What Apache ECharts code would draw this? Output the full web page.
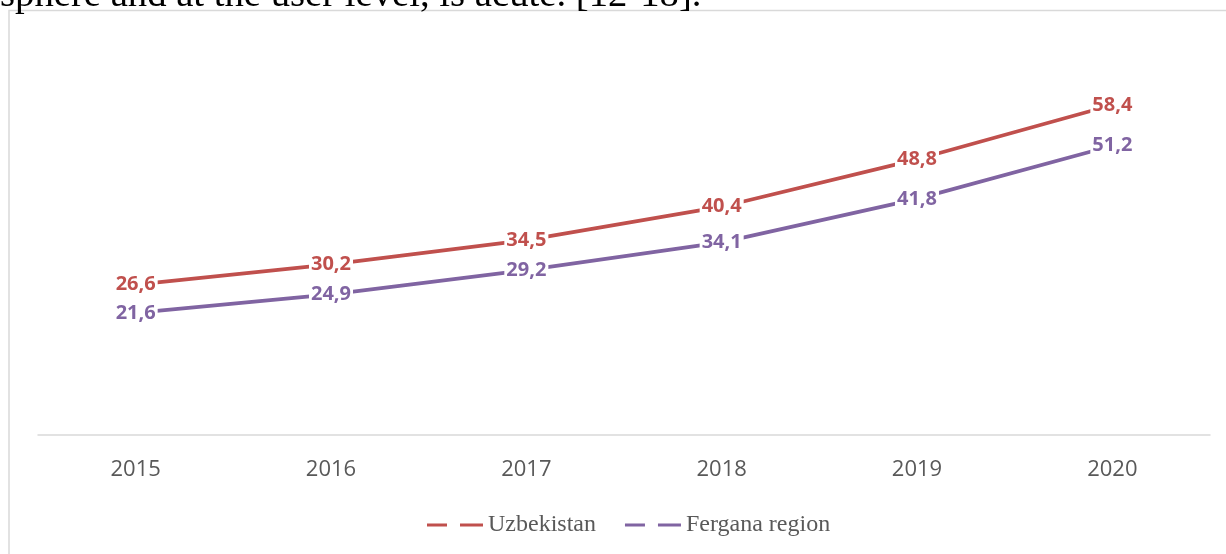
<!DOCTYPE html>
<html>
<head>
<meta charset="utf-8">
<script src="https://cdn.jsdelivr.net/npm/echarts@6/dist/echarts.min.js"></script>
<style>
html,body{margin:0;padding:0;background:#fff;}
#chart{width:1226px;height:554px;}
</style>
</head>
<body>
<div id="chart"></div>
<script>
const categories = ['2015', '2016', '2017', '2018', '2019', '2020'];
const uzbekistan = [26.6, 30.2, 34.5, 40.4, 48.8, 58.4];
const fergana = [21.6, 24.9, 29.2, 34.1, 41.8, 51.2];
const seriesNames = ['Uzbekistan', 'Fergana region'];
const headerText = 'sphere and at the user level, is acute. [12-18].';

const RED = '#C0504D';
const PURPLE = '#8064A2';
const fmt = p => String(p.value).replace('.', ',');

function labelCfg(color) {
  return {
    show: true,
    position: 'inside',
    formatter: fmt,
    color: color,
    fontFamily: '"Open Sans", sans-serif',
    fontWeight: 'bold',
    fontSize: 20,
    backgroundColor: '#fff',
    padding: [0, 2, 0, 2]
  };
}

const chart = echarts.init(document.getElementById('chart'), null, {renderer: 'canvas'});
const dashIcon = 'path://M0,0h20v3H0z M33,0h23v3H33z';

chart.setOption({
  animation: false,
  backgroundColor: '#fff',
  grid: {left: 38, right: 16, top: 39.5, bottom: 119, containLabel: false},
  graphic: [
    {
      type: 'rect', silent: true, z: -1,
      shape: {x: 9, y: 10.5, width: 1300, height: 700},
      style: {fill: 'none', stroke: '#d9d9d9', lineWidth: 1.5}
    },
    {
      type: 'text', silent: true,
      style: {
        x: 0, y: 15, text: headerText,
        fontFamily: '"Liberation Serif", "Times New Roman", serif',
        fontSize: 38.7, fill: '#000', verticalAlign: 'bottom'
      }
    }
  ],
  xAxis: {
    type: 'category',
    data: categories,
    boundaryGap: true,
    axisLine: {show: true, lineStyle: {color: '#d9d9d9', width: 1.5}},
    axisTick: {show: false},
    axisLabel: {
      color: '#595959',
      fontFamily: '"Open Sans", sans-serif',
      fontSize: 22,
      margin: 24
    }
  },
  yAxis: {
    type: 'value',
    min: 0, max: 70, interval: 10,
    show: false,
    splitLine: {show: false}
  },
  legend: {
    left: 427,
    top: 513,
    padding: 0,
    itemWidth: 56,
    itemHeight: 3,
    itemGap: 29,
    textStyle: {
      color: '#595959',
      fontFamily: '"Liberation Serif", "Times New Roman", serif',
      fontSize: 24
    },
    data: [
      {name: seriesNames[0], icon: dashIcon, itemStyle: {color: RED}},
      {name: seriesNames[1], icon: dashIcon, itemStyle: {color: PURPLE}}
    ]
  },
  series: [
    {
      name: seriesNames[0],
      type: 'line',
      data: uzbekistan,
      symbol: 'circle',
      symbolSize: 1,
      itemStyle: {color: RED},
      lineStyle: {color: RED, width: 3.8},
      label: labelCfg(RED)
    },
    {
      name: seriesNames[1],
      type: 'line',
      data: fergana,
      symbol: 'circle',
      symbolSize: 1,
      itemStyle: {color: PURPLE},
      lineStyle: {color: PURPLE, width: 3.8},
      label: labelCfg(PURPLE)
    }
  ]
});
</script>
</body>
</html>
